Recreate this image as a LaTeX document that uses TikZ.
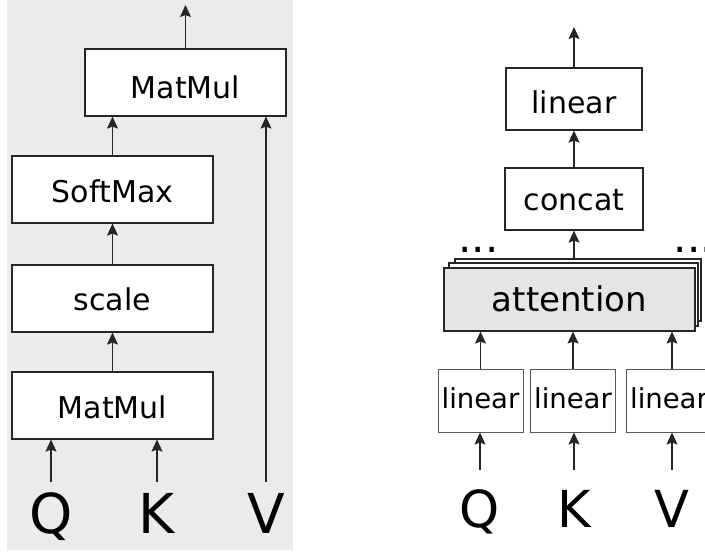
\documentclass[tikz,border=0pt]{standalone}
\usepackage{fontspec}
\setmainfont{DejaVu Sans}
\usetikzlibrary{arrows.meta}
\definecolor{panelgray}{RGB}{235,235,235}
\definecolor{attgray}{RGB}{229,229,229}
\begin{document}
\begin{tikzpicture}[x=1pt,y=-1pt,
  box/.style={draw=black!85, line width=1.2pt, fill=white, inner sep=0pt,
    text depth=0pt, font=\fontsize{30}{36}\selectfont},
  wide/.style={box, minimum width=201pt, minimum height=67pt},
  small/.style={box, draw=black!65, line width=1pt, minimum width=85pt,
    minimum height=63pt, text height=15pt, font=\fontsize{27.5}{33}\selectfont},
  back/.style={draw=black!85, line width=1.2pt, fill=white, inner sep=0pt},
  arr/.style={draw=black!85, line width=1.1pt,
    -{Stealth[length=12pt,width=11pt,inset=2pt,fill=black!85]}},
  sym/.style={inner sep=0pt, text depth=0pt, anchor=base},
  dots/.style={inner sep=0pt, anchor=base, font=\fontsize{42}{48}\selectfont}
]
\useasboundingbox (0,0) rectangle (705,552);
\clip (0,0) rectangle (705,552);

% ---------- scaled dot-product attention ----------
\fill[panelgray] (7,0) rectangle (293,550);

\node[wide, text height=32pt] (mmB) at (185.5,82.5) {MatMul};
\node[wide, text height=25pt] (smx) at (112.5,189.5) {SoftMax};
\node[wide, text height=23pt] (scl) at (112.5,298.5) {scale};
\node[wide, text height=26pt] (mmA) at (112.5,405.5) {MatMul};

\node[sym, font=\fontsize{55}{60}\selectfont, text height=40pt, inner ysep=11pt] (q1) at (51,533) {Q};
\node[sym, font=\fontsize{55}{60}\selectfont, text height=40pt, inner ysep=11pt] (k1) at (157,533) {K};
\node[sym, font=\fontsize{55}{60}\selectfont, text height=40pt, inner ysep=11pt] (v1) at (266,533) {V};

\coordinate (outA) at (185.5,5);

\draw[arr] (q1.north) -- (q1.north |- mmA.south);
\draw[arr] (k1.north) -- (k1.north |- mmA.south);
\draw[arr] (mmA.north) -- (scl.south);
\draw[arr] (scl.north) -- (smx.south);
\draw[arr] (smx.north) -- (smx.north |- mmB.south);
\draw[arr] (v1.north) -- (v1.north |- mmB.south);
\draw[arr] (mmB.north) -- (outA);

% ---------- multi-head attention ----------
\node[box, minimum width=136pt, minimum height=62pt, text height=28pt] (linT) at (574,99) {linear};
\node[box, minimum width=138pt, minimum height=62pt, text height=23pt] (cat) at (574,199) {concat};

\node[back, minimum width=246pt, minimum height=62pt] (att3) at (578,290) {};
\node[back, minimum width=249pt, minimum height=63pt] (att2) at (573.5,294.5) {};
\node[box, fill=attgray, minimum width=251pt, minimum height=63pt, text height=23pt,
  font=\fontsize{34}{40}\selectfont] (att) at (569.5,299.5) {attention};

\node[dots] (dotsL) at (478.5,252) {...};
\node[dots] (dotsR) at (694,252) {...};

\node[small] (l1) at (480.5,400.5) {linear};
\node[small] (l2) at (573,400.5) {linear};
\node[small, minimum width=86pt] (l3) at (669,400.5) {linear};

\node[sym, font=\fontsize{51}{56}\selectfont, text height=37pt, inner ysep=20pt] (q2) at (480,527) {Q};
\node[sym, font=\fontsize{51}{56}\selectfont, text height=37pt, inner ysep=20pt] (k2) at (574,527) {K};
\node[sym, font=\fontsize{51}{56}\selectfont, text height=37pt, inner ysep=20pt] (v2) at (672,527) {V};

\coordinate (outB) at (574,27);

\draw[arr] (q2.north) -- (q2.north |- l1.south);
\draw[arr] (k2.north) -- (k2.north |- l2.south);
\draw[arr] (v2.north) -- (v2.north |- l3.south);
\draw[arr] (l1.north) -- (l1.north |- att.south);
\draw[arr] (l2.north) -- (l2.north |- att.south);
\draw[arr] (v2.north |- l3.north) -- (v2.north |- att.south);
\draw[arr] (cat.south |- att3.north) -- (cat.south);
\draw[arr] (cat.north) -- (linT.south);
\draw[arr] (linT.north) -- (outB);
\end{tikzpicture}
\end{document}
